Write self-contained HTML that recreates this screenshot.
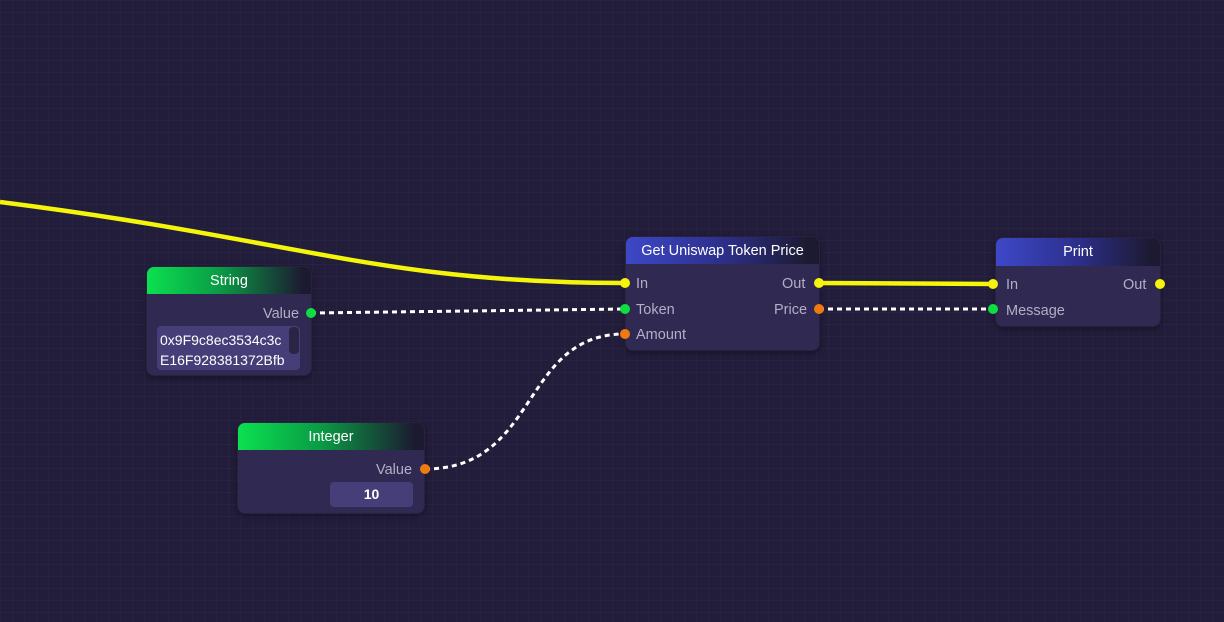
<!DOCTYPE html>
<html><head><style>
body{margin:0;width:1224px;height:622px;overflow:hidden;background:#221d3b;
background-image:linear-gradient(rgba(255,255,255,0.025) 1px,transparent 1px),linear-gradient(90deg,rgba(255,255,255,0.025) 1px,transparent 1px);background-size:12px 12px;
font-family:"Liberation Sans",sans-serif;position:relative}
.n{position:absolute;background:#302951;border-radius:8px;border:1px solid #28223f;box-sizing:border-box;box-shadow:0 2px 6px rgba(0,0,0,.35)}
.h{height:27px;border-radius:7px 7px 0 0;color:#fff;font-size:14.5px;text-align:center;line-height:28px}
.g{background:linear-gradient(90deg,#0be050 0%,#0a9a45 45%,#1c1a30 95%)}
.b{background:linear-gradient(90deg,#3d48c8 0%,#2c2f8a 50%,#1c1a30 95%)}
.l{position:absolute;color:#b4aec8;font-size:14.5px}
svg{position:absolute;left:0;top:0}
</style></head><body>
<svg width="1224" height="622">
<path d="M0,202 C300,240 380,283 625,283" stroke="#f4f50a" stroke-width="4.5" fill="none"/>
<path d="M819,283 L993,284" stroke="#f4f50a" stroke-width="4.5" fill="none"/>
<path d="M311,313 L625,309" stroke="#fff" stroke-width="3" stroke-dasharray="5,4" fill="none"/>
<path d="M819,309 L993,309" stroke="#fff" stroke-width="3" stroke-dasharray="5,4" fill="none"/>
<path d="M425,469 C540,469 520,334 625,334" stroke="#fff" stroke-width="3" stroke-dasharray="5,4" fill="none"/>
</svg>
<div class="n" style="left:146px;top:266px;width:166px;height:110px"><div class="h g">String</div></div>
<div class="l" style="left:263px;top:306px">Value</div>
<div style="position:absolute;left:157px;top:326px;width:143px;height:44px;background:#463e78;border-radius:4px;color:#fff;font-size:14px;line-height:20px;padding:4px 0 0 3px;box-sizing:border-box">0x9F9c8ec3534c3c<br>E16F928381372Bfb</div>
<div style="position:absolute;left:289px;top:327px;width:10px;height:27px;background:#2a2445;border-radius:4px"></div>

<div class="n" style="left:237px;top:422px;width:188px;height:92px"><div class="h g">Integer</div></div>
<div class="l" style="left:376px;top:462px">Value</div>
<div style="position:absolute;left:330px;top:482px;width:83px;height:25px;background:#463e78;border-radius:4px;color:#fff;font-size:14px;font-weight:bold;text-align:center;line-height:25px">10</div>

<div class="n" style="left:625px;top:236px;width:195px;height:115px"><div class="h b">Get Uniswap Token Price</div></div>
<div class="l" style="left:636px;top:276px">In</div>
<div class="l" style="left:636px;top:302px">Token</div>
<div class="l" style="left:636px;top:327px">Amount</div>
<div class="l" style="left:782px;top:276px">Out</div>
<div class="l" style="left:774px;top:302px">Price</div>

<div class="n" style="left:995px;top:237px;width:166px;height:90px"><div class="h b" style="height:28px;line-height:29px">Print</div></div>
<div class="l" style="left:1006px;top:277px">In</div>
<div class="l" style="left:1006px;top:303px">Message</div>
<div class="l" style="left:1123px;top:277px">Out</div>

<svg width="1224" height="622">
<circle cx="311" cy="313" r="5" fill="#0be040"/>
<circle cx="425" cy="469" r="5" fill="#f07a10"/>
<circle cx="625" cy="283" r="5" fill="#f4f50a"/>
<circle cx="625" cy="309" r="5" fill="#0be040"/>
<circle cx="625" cy="334" r="5" fill="#f07a10"/>
<circle cx="819" cy="283" r="5" fill="#f4f50a"/>
<circle cx="819" cy="309" r="5" fill="#f07a10"/>
<circle cx="993" cy="284" r="5" fill="#f4f50a"/>
<circle cx="993" cy="309" r="5" fill="#0be040"/>
<circle cx="1160" cy="284" r="5" fill="#f4f50a"/>
</svg>
</body></html>
